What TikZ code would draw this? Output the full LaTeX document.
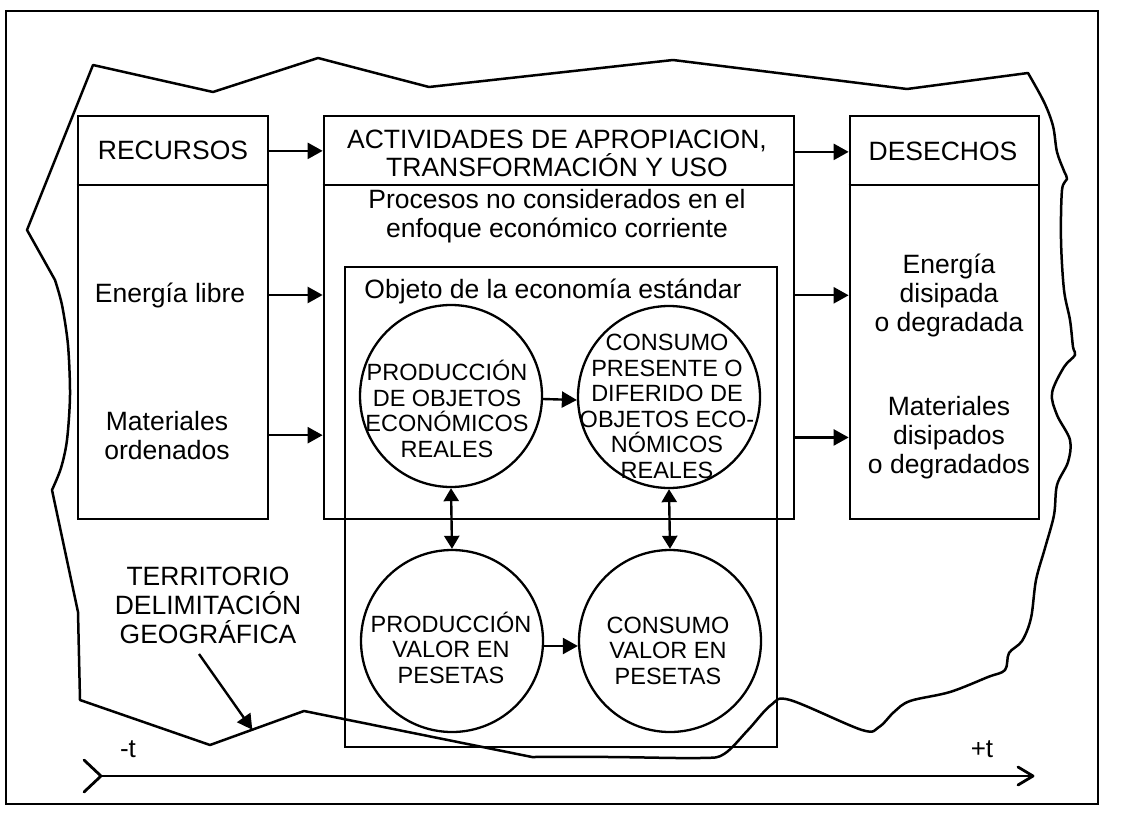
\documentclass[tikz,border=0pt]{standalone}
\usepackage{fontspec}
\setmainfont{Liberation Sans}
\usetikzlibrary{arrows.meta,calc}
\newcommand\lbfont{\fontsize{26.5}{28.7}\selectfont}
\newcommand\cirfont{\fontsize{23.5}{25.5}\selectfont}
\newcommand\axfont{\fontsize{26}{28}\selectfont}
\begin{document}
\begin{tikzpicture}[x=1pt,y=-1pt,
  box/.style={draw, line width=2.7pt, minimum height=403pt, inner sep=0pt},
  circ/.style={draw, circle, line width=2.3pt, minimum size=182pt, inner sep=0pt},
  lbl/.style={align=center, font=\lbfont, inner sep=0pt, anchor=base},
  ctext/.style={align=center, font=\cirfont, inner sep=0pt, anchor=base},
  axlbl/.style={font=\axfont, inner sep=0pt, anchor=base},
  arr/.style={line width=2.4pt, -{Triangle[length=15pt,width=16pt]}},
  darr/.style={line width=2.4pt, {Triangle[length=13pt,width=15pt]}-{Triangle[length=13pt,width=15pt]}},
  terr/.style={line width=2.5pt, line join=round},
  divider/.style={line width=2.7pt},
  axis/.style={line width=2.5pt, line cap=round, line join=round}]
\useasboundingbox (0,0) rectangle (1134,813);

% outer frame
\node[draw, line width=2.7pt, minimum width=1092pt, minimum height=793pt, inner sep=0pt] (frame) at (552,407.5) {};

% territory outline
\coordinate (tA) at (210,745);
\coordinate (tB) at (304,711);
\draw[terr] (27,230) -- (93,65) -- (213,92) -- (318,58) -- (429,87) -- (673,60) -- (907,89) -- (1028,73)
  -- plot[smooth, tension=0.55] coordinates {(1028,73) (1044,102) (1053,126) (1057,152) (1064,171) (1067,179) (1062,190) (1061,240) (1064,290) (1070,320) (1073,347) (1075,355) (1064,367) (1052,393) (1057,415) (1070,440) (1068,462) (1057,485) (1054,515) (1045,548) (1036,580) (1031,618) (1022,641) (1009,653) (1005,670) (988,677) (950,692) (910,701) (894,712) (879,727) (862,730) (790,700) (771,705) (748,730) (724,754) (700,758) (610,757) (532,757)}
  -- (tB) -- (tA) -- (80,700) -- (78,612) -- (52,490)
  -- plot[smooth, tension=0.5] coordinates {(52,490) (61,468) (67,440) (70,395) (68,345) (62,305) (55,280)}
  -- cycle;

% main boxes
\node[box, minimum width=190pt] (rec) at (173,317.5) {};
\node[box, minimum width=470pt] (act) at (559,317.5) {};
\node[box, minimum width=189pt] (des) at (944.5,317.5) {};
\node[draw, line width=2.7pt, minimum width=432pt, minimum height=480pt, inner sep=0pt] (obj) at (561,507) {};

\coordinate (hdr) at (0,185);
\draw[divider] (rec.west |- hdr) -- (rec.east |- hdr);
\draw[divider] (act.west |- hdr) -- (act.east |- hdr);
\draw[divider] (des.west |- hdr) -- (des.east |- hdr);

% texts (anchor = baseline of the last line)
\node[lbl] (rect) at (173,160) {RECURSOS};
\node[lbl] (ener) at (170,302) {Energía libre};
\node[lbl] (mat) at (167,459) {Materiales\\ordenados};
\node[lbl] (actt) at (557,177) {ACTIVIDADES DE APROPIACION,\\TRANSFORMACIÓN Y USO};
\node[lbl] (proc) at (557,237) {Procesos no considerados en el\\enfoque económico corriente};
\node[lbl] (objt) at (553,298) {Objeto de la economía estándar};
\node[lbl] (dest) at (943,161) {DESECHOS};
\node[lbl] (edis) at (949,331) {Energía\\disipada\\o degradada};
\node[lbl] (mdis) at (949,473) {Materiales\\disipados\\o degradados};
\node[lbl] (terrt) at (208,643) {TERRITORIO\\DELIMITACIÓN\\GEOGRÁFICA};

% circles
\node[circ] (c1) at (451,396) {};
\node[circ] (c2) at (669,397) {};
\node[circ] (c3) at (452,641) {};
\node[circ] (c4) at (670,641) {};
\node[ctext] (c1t) at (447,457) {PRODUCCIÓN\\DE OBJETOS\\ECONÓMICOS\\REALES};
\node[ctext] (c2t) at (667,478) {CONSUMO\\PRESENTE O\\DIFERIDO DE\\OBJETOS ECO-\\NÓMICOS\\REALES};
\node[ctext] (c3t) at (451,683) {PRODUCCIÓN\\VALOR EN\\PESETAS};
\node[ctext] (c4t) at (668,684) {CONSUMO\\VALOR EN\\PESETAS};

% arrows between boxes
\draw[arr] (rec.east |- rect) -- (act.west |- rect);
\draw[arr] (rec.east |- ener) -- (act.west |- ener);
\draw[arr] (rec.east |- mat) -- (act.west |- mat);
\draw[arr] (act.east |- dest) -- (des.west |- dest);
\draw[arr] (act.east |- edis) -- (des.west |- edis);
\draw[arr] (act.east |- mdis) -- (des.west |- mdis);

% arrows between circles
\draw[arr] ([yshift=-3pt]c1.east) -- ([yshift=-3pt]c2.west);
\draw[arr] ([yshift=-5pt]c3.east) -- ([yshift=-5pt]c4.west);
\draw[darr] (c1.south) -- (c3.north);
\draw[darr] (c2.south) -- (c4.north);

% territory pointer
\coordinate (tst) at (199,654);
\coordinate (tpt) at ($(tA)!0.45!(tB)$);
\draw[arr] (tst) -- (tpt);

% time axis
\coordinate (ax0) at (101,776);
\coordinate (ax1) at (1033,776);
\draw[axis] (ax0) -- (ax1);
\draw[axis, line width=2.8pt] ($(ax0)+(-17,-16)$) -- (ax0) -- ($(ax0)+(-17,16)$);
\draw[axis, line width=2.8pt] ($(ax1)+(-15,-9)$) -- (ax1) -- ($(ax1)+(-15,9)$);
\node[axlbl] (tmin) at (128,757) {-t};
\node[axlbl] (tplus) at (982,757) {+t};
\end{tikzpicture}
\end{document}
